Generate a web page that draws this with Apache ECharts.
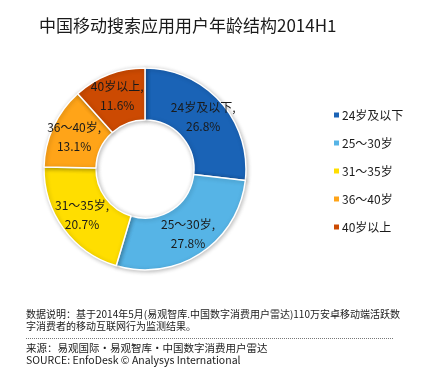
<!DOCTYPE html>
<html>
<head>
<meta charset="utf-8">
<script src="https://cdn.jsdelivr.net/npm/echarts@6/dist/echarts.min.js"></script>
<style>
  html, body { margin: 0; padding: 0; background: #fff; }
  #main { width: 431px; height: 381px; }
</style>
</head>
<body>
<div id="main"></div>
<script>
  // data
  const categories = ['24岁及以下', '25～30岁', '31～35岁', '36～40岁', '40岁以上'];
  const shares = [26.8, 27.8, 20.7, 13.1, 11.6];
  const colors = ['#1a63b6', '#56b4e6', '#ffde00', '#ffa418', '#cc4a02'];

  const titleText = '中国移动搜索应用用户年龄结构2014H1';
  const noteLines = [
    '数据说明：基于2014年5月(易观智库.中国数字消费用户雷达)110万安卓移动端活跃数',
    '字消费者的移动互联网行为监测结果。'
  ];
  const sourceLines = [
    '来源：易观国际·易观智库·中国数字消费用户雷达',
    'SOURCE: EnfoDesk © Analysys International'
  ];

  const font = '"Noto Sans CJK SC", "Noto Sans", sans-serif';
  const chart = echarts.init(document.getElementById('main'));

  const option = {
    backgroundColor: '#ffffff',
    animation: false,
    color: colors,
    title: {
      text: titleText,
      left: 34,
      top: 12,
      textStyle: { fontFamily: font, fontSize: 17, fontWeight: 'normal', color: '#1a1a1a' }
    },
    legend: {
      orient: 'vertical',
      left: 327,
      top: 104,
      itemWidth: 7,
      itemHeight: 7,
      itemGap: 16,
      icon: 'rect',
      data: categories,
      textStyle: { fontFamily: font, fontSize: 12, color: '#1a1a1a', padding: [0, 0, 0, -3] }
    },
    series: [
      {
        type: 'pie',
        center: [145, 169],
        radius: [49, 101],
        startAngle: 90,
        clockwise: true,
        avoidLabelOverlap: false,
        itemStyle: {
          borderColor: '#ffffff',
          borderWidth: 1.5,
          shadowBlur: 4,
          shadowColor: 'rgba(0,0,0,0.25)',
          shadowOffsetX: 1,
          shadowOffsetY: 1
        },
        label: {
          position: 'inside',
          fontFamily: font,
          fontSize: 12,
          color: '#1a1a1a',
          lineHeight: 19,
          formatter: p => p.name + ',\n' + p.value.toFixed(1) + '%'
        },
        labelLine: { show: false },
        data: categories.map((name, i) => ({ name, value: shares[i] }))
      }
    ],
    graphic: [
      {
        type: 'text',
        left: 26,
        top: 308,
        style: {
          text: noteLines.join('\n'),
          font: '10px ' + font,
          lineHeight: 12,
          fill: '#1a1a1a'
        }
      },
      {
        type: 'line',
        shape: { x1: 26, y1: 338.5, x2: 393, y2: 338.5 },
        style: { stroke: '#777', lineWidth: 1, lineDash: [1, 1] }
      },
      {
        type: 'text',
        left: 26,
        top: 342,
        style: {
          text: sourceLines.join('\n'),
          font: '10.5px ' + font,
          lineHeight: 12,
          fill: '#1a1a1a'
        }
      }
    ]
  };

  chart.setOption(option);
</script>
</body>
</html>
